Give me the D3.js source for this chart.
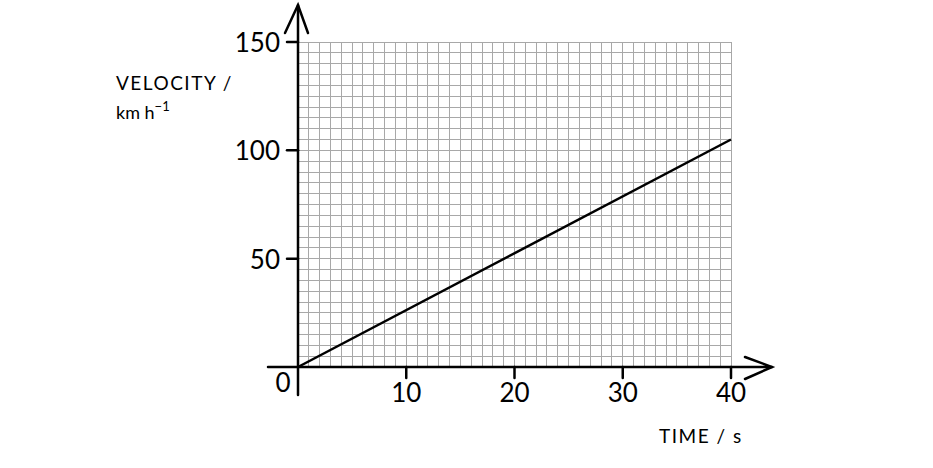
<!DOCTYPE html>
<html>
<head>
<meta charset="utf-8">
<script src="https://cdn.jsdelivr.net/npm/d3@7"></script>
<style>
  body { margin: 0; background: #fff; }
  text { font-family: Lato, "Open Sans", sans-serif; fill: #000; }
</style>
</head>
<body>
<div class="chart"></div>
<script>
var timeValues = [0, 40];
var velocityValues = [0, 105];
var xTicks = [10, 20, 30, 40];
var yTicks = [50, 100, 150];

var width = 933, height = 468;
var x = d3.scaleLinear().domain([0, 40]).range([298, 731]);
var y = d3.scaleLinear().domain([0, 150]).range([367, 42]);

var svg = d3.select('.chart').append('svg').attr('width', width).attr('height', height);

// grid paper
var grid = svg.append('g').attr('stroke', '#a8a8a8').attr('stroke-width', 1).attr('shape-rendering', 'crispEdges');
grid.selectAll('line.v').data(d3.range(1, 41)).enter().append('line')
  .attr('x1', function(d){ return x(d); }).attr('x2', function(d){ return x(d); })
  .attr('y1', y(0)).attr('y2', y(150));
grid.selectAll('line.h').data(d3.range(5, 151, 5)).enter().append('line')
  .attr('x1', x(0)).attr('x2', x(40))
  .attr('y1', function(d){ return y(d); }).attr('y2', function(d){ return y(d); });

var ink = svg.append('g').attr('stroke', '#000').attr('stroke-width', 2.5).attr('fill', 'none').attr('stroke-linecap', 'round');

// axes
ink.append('line').attr('x1', x(0)).attr('x2', x(0)).attr('y1', 395).attr('y2', 5);
ink.append('polyline').attr('points', [[x(0) - 13, 33], [x(0), 5], [x(0) + 10, 33]].join(' '));
ink.append('line').attr('x1', 268).attr('x2', 772).attr('y1', y(0)).attr('y2', y(0));
ink.append('polyline').attr('points', [[745, y(0) - 10], [772, y(0)], [745, y(0) + 12]].join(' '));

// ticks
ink.selectAll('line.xt').data(xTicks).enter().append('line')
  .attr('x1', function(d){ return x(d); }).attr('x2', function(d){ return x(d); })
  .attr('y1', y(0)).attr('y2', y(0) + 11);
ink.selectAll('line.yt').data(yTicks).enter().append('line')
  .attr('x1', x(0) - 11).attr('x2', x(0))
  .attr('y1', function(d){ return y(d); }).attr('y2', function(d){ return y(d); });

// data line
var line = d3.line().x(function(d){ return x(d[0]); }).y(function(d){ return y(d[1]); });
svg.append('path').datum(d3.zip(timeValues, velocityValues))
  .attr('d', line).attr('stroke', '#000').attr('stroke-width', 2.5).attr('fill', 'none');

// tick labels
svg.selectAll('text.xl').data(xTicks).enter().append('text')
  .attr('x', function(d){ return x(d); }).attr('y', 402)
  .attr('text-anchor', 'middle').style('font-size', '26px')
  .text(function(d){ return d; });
svg.selectAll('text.yl').data(yTicks).enter().append('text')
  .attr('x', 280).attr('y', function(d){ return y(d) + 10; })
  .attr('text-anchor', 'end').style('font-size', '26px')
  .text(function(d){ return d; });
svg.append('text').attr('x', 283).attr('y', 392).attr('text-anchor', 'middle')
  .style('font-size', '26px').text('0');

// axis titles
svg.append('text').attr('x', 116).attr('y', 90).style('font-size', '19px').style('letter-spacing', '1.5px').text('VELOCITY /');
var unit = svg.append('text').attr('x', 116).attr('y', 119).style('font-size', '18px');
unit.append('tspan').text('km h');
unit.append('tspan').attr('dy', -8).style('font-size', '13px').text('\u22121');
svg.append('text').attr('x', 659).attr('y', 443).style('font-size', '19px').style('letter-spacing', '1.5px').text('TIME / s');
</script>
</body>
</html>
